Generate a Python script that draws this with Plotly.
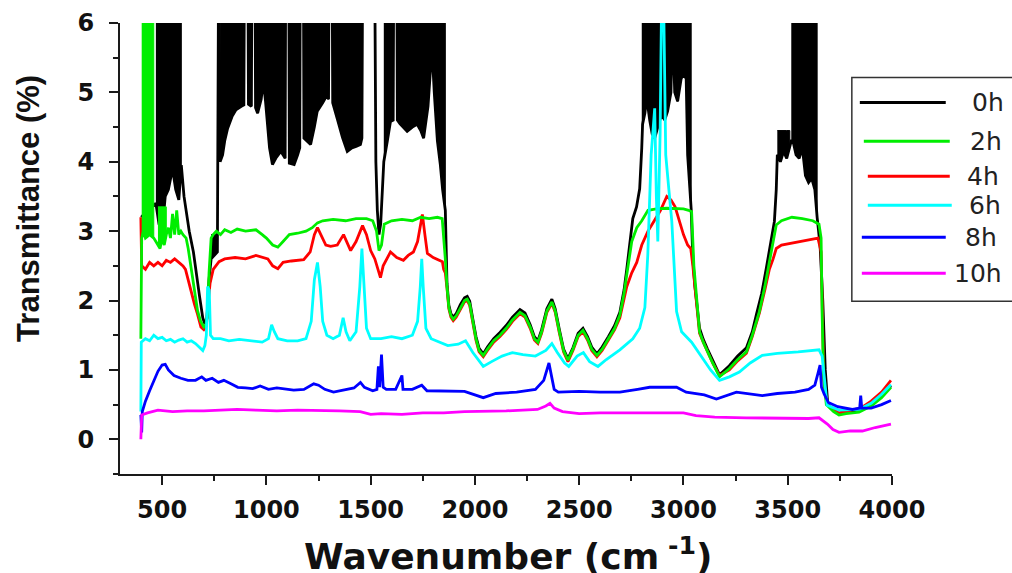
import plotly.graph_objects as go

# ---------------- data (wavenumber cm^-1, transmittance %) ----------------
SERIES_0H = [
    (400, 3.2), (430, 3.3), (470, 3.4), (485, 3.1), (500, 3.0), (515, 3.5), (530, 3.6),
    (550, 3.9), (565, 3.6), (580, 3.45), (592, 3.95), (605, 3.5), (615, 3.3), (630, 3.0),
    (650, 2.7), (665, 2.35), (680, 2.05), (695, 1.75), (705, 1.66), (715, 1.75), (725, 2.3),
    (735, 2.6), (750, 2.65), (765, 2.7), (770, 6.3), (774, 6.3), (778, 4.0), (790, 4.1),
    (800, 4.3), (814, 4.48), (835, 4.65), (854, 4.75), (880, 4.8), (892, 4.82), (894, 6.3),
    (912, 6.3), (914, 4.83), (928, 4.8), (930, 6.3), (946, 6.3), (948, 4.78), (958, 4.7),
    (975, 4.9), (985, 5.16), (995, 4.9), (1005, 4.48), (1015, 4.2), (1029, 3.96),
    (1045, 4.05), (1069, 4.15), (1090, 4.05), (1092, 6.3), (1108, 6.3), (1110, 3.98),
    (1133, 3.96), (1150, 4.1), (1160, 4.2), (1162, 6.3), (1178, 6.3), (1180, 4.34),
    (1195, 4.3), (1212, 4.25), (1230, 4.5), (1244, 4.73), (1270, 4.85), (1292, 4.97),
    (1298, 4.9), (1300, 6.3), (1316, 6.3), (1318, 4.85), (1340, 4.62), (1365, 4.35),
    (1388, 4.15), (1410, 4.2), (1430, 4.22), (1451, 4.25), (1458, 4.34), (1461, 6.5),
    (1520, 6.5), (1525, 4.0), (1532, 3.3), (1540, 2.95), (1548, 3.1), (1556, 3.6),
    (1563, 4.0), (1580, 4.3), (1595, 4.58), (1608, 4.6), (1610, 6.3), (1626, 6.3),
    (1628, 4.6), (1640, 4.55), (1675, 4.44), (1700, 4.5), (1723, 4.54), (1740, 4.45),
    (1754, 4.34), (1775, 4.8), (1794, 5.64), (1805, 5.0), (1820, 4.3), (1834, 3.96),
    (1845, 3.6), (1858, 3.3), (1866, 2.25), (1875, 1.93), (1885, 1.81), (1896, 1.76),
    (1910, 1.81), (1930, 1.94), (1950, 2.04), (1963, 2.06), (1975, 1.99), (1990, 1.73),
    (2005, 1.48), (2020, 1.31), (2040, 1.23), (2060, 1.33), (2090, 1.45), (2120, 1.54),
    (2150, 1.64), (2180, 1.76), (2216, 1.87), (2240, 1.82), (2265, 1.65), (2285, 1.48),
    (2302, 1.42), (2320, 1.58), (2345, 1.88), (2369, 2.02), (2385, 1.88), (2405, 1.58),
    (2425, 1.3), (2446, 1.16), (2470, 1.32), (2495, 1.53), (2518, 1.6), (2540, 1.48),
    (2560, 1.33), (2585, 1.23), (2610, 1.33), (2640, 1.48), (2670, 1.64), (2695, 1.83),
    (2715, 2.15), (2728, 2.45), (2745, 2.85), (2757, 3.18), (2775, 3.35), (2790, 3.61),
    (2800, 4.2), (2804, 4.54), (2815, 4.7), (2824, 4.92), (2838, 4.6), (2850, 4.4),
    (2862, 4.34), (2880, 4.55), (2894, 4.68), (2910, 4.6), (2924, 4.73), (2940, 5.0),
    (2946, 5.8), (2952, 5.6), (2958, 5.0), (2972, 4.87), (2989, 5.2), (3000, 5.25),
    (3013, 5.2), (3020, 4.1), (3030, 3.6), (3037, 3.32), (3045, 2.6), (3055, 2.2),
    (3077, 1.6), (3095, 1.44), (3115, 1.3), (3140, 1.13), (3173, 0.93), (3220, 1.06),
    (3260, 1.2), (3302, 1.32), (3330, 1.55), (3350, 1.8), (3375, 2.1), (3397, 2.46),
    (3420, 2.85), (3436, 3.14), (3445, 3.6), (3450, 4.1), (3465, 4.0), (3480, 4.15),
    (3495, 4.05), (3510, 4.2), (3517, 4.3), (3525, 4.3), (3540, 4.1), (3555, 4.05),
    (3570, 4.2), (3585, 3.8), (3600, 3.7), (3615, 3.76), (3630, 3.6), (3641, 3.2),
    (3655, 2.8), (3668, 2.0), (3680, 1.0), (3692, 0.5), (3720, 0.42), (3746, 0.37),
    (3780, 0.39), (3842, 0.41), (3900, 0.5), (3950, 0.62), (3995, 0.77),
]
# noisy stretches of the 0h spectrum: (from, to, upper edge of the noise)
NOISE_0H = [(470, 595, 6.3), (730, 768, 2.95), (778, 1458, 6.3), (1563, 1858, 6.3),
            (2800, 3037, 6.3), (3450, 3515, 4.45), (3517, 3641, 6.3)]

SERIES_2H = [
    (398, 1.45), (402, 2.9), (410, 3.0), (420, 2.9), (440, 2.95), (460, 2.9), (470, 2.85),
    (480, 2.8), (490, 2.75), (500, 2.9), (510, 2.8), (520, 2.95), (530, 3.05), (540, 2.9),
    (550, 3.25), (560, 2.95), (570, 3.3), (580, 2.95), (590, 3.0), (600, 2.95), (615, 2.9),
    (625, 2.75), (640, 2.45), (655, 2.1), (670, 1.85), (685, 1.7), (700, 1.62), (710, 1.65),
    (718, 1.8), (725, 2.4), (735, 2.9), (745, 2.95), (760, 3.0), (780, 2.95), (800, 3.02),
    (830, 2.98), (860, 3.03), (900, 3.0), (950, 3.02), (980, 2.95), (1000, 2.9),
    (1030, 2.8), (1055, 2.77), (1080, 2.85), (1110, 2.95), (1150, 2.97), (1190, 3.0),
    (1220, 3.05), (1245, 3.12), (1270, 3.15), (1320, 3.17), (1380, 3.15), (1430, 3.18),
    (1480, 3.18), (1510, 3.15), (1528, 3.0), (1540, 2.72), (1552, 2.8), (1565, 3.1),
    (1600, 3.15), (1650, 3.17), (1700, 3.15), (1740, 3.2), (1780, 3.18), (1820, 3.2),
    (1843, 3.18), (1850, 2.95), (1858, 2.6), (1866, 2.2), (1875, 1.9), (1885, 1.78),
    (1896, 1.73), (1910, 1.78), (1930, 1.9), (1950, 2.0), (1963, 2.02), (1975, 1.95),
    (1990, 1.7), (2005, 1.45), (2020, 1.28), (2040, 1.21), (2060, 1.3), (2090, 1.42),
    (2120, 1.5), (2150, 1.6), (2180, 1.72), (2216, 1.83), (2240, 1.78), (2265, 1.62),
    (2285, 1.45), (2302, 1.4), (2320, 1.55), (2345, 1.85), (2369, 1.98), (2385, 1.85),
    (2405, 1.55), (2425, 1.28), (2446, 1.14), (2470, 1.3), (2495, 1.5), (2518, 1.57),
    (2540, 1.45), (2560, 1.3), (2585, 1.21), (2610, 1.3), (2640, 1.45), (2670, 1.6),
    (2695, 1.79), (2715, 2.1), (2728, 2.37), (2752, 2.85), (2776, 3.05), (2800, 3.15),
    (2830, 3.3), (2870, 3.32), (2920, 3.33), (2960, 3.32), (3000, 3.32), (3025, 3.3),
    (3039, 3.28), (3050, 2.5), (3060, 2.1), (3077, 1.55), (3095, 1.4), (3115, 1.26),
    (3140, 1.1), (3173, 0.9), (3220, 1.02), (3260, 1.15), (3302, 1.26), (3330, 1.5),
    (3364, 1.84), (3390, 2.2), (3412, 2.56), (3430, 2.9), (3445, 3.09), (3470, 3.15),
    (3520, 3.2), (3570, 3.18), (3620, 3.15), (3650, 3.1), (3660, 2.9), (3665, 1.8),
    (3672, 0.9), (3685, 0.5), (3720, 0.4), (3746, 0.35), (3780, 0.37), (3842, 0.39),
    (3900, 0.48), (3950, 0.6), (3995, 0.75),
]
NOISE_2H = [(402, 468, 6.3), (472, 520, 3.35)]

SERIES_4H = [
    (398, 3.2), (402, 2.5), (420, 2.45), (440, 2.55), (460, 2.5), (480, 2.55), (500, 2.5),
    (520, 2.58), (540, 2.55), (560, 2.6), (580, 2.55), (600, 2.5), (612, 2.45), (625, 2.3),
    (640, 2.1), (655, 1.95), (670, 1.8), (686, 1.62), (700, 1.58), (712, 1.63), (720, 1.95),
    (730, 2.25), (745, 2.45), (773, 2.56), (800, 2.6), (850, 2.62), (900, 2.6), (950, 2.65),
    (1007, 2.6), (1030, 2.5), (1055, 2.46), (1080, 2.55), (1120, 2.57), (1179, 2.59),
    (1210, 2.7), (1230, 2.95), (1245, 3.05), (1260, 2.96), (1285, 2.8), (1308, 2.78),
    (1340, 2.8), (1370, 2.95), (1385, 2.85), (1404, 2.72), (1430, 2.85), (1461, 3.08),
    (1480, 2.95), (1500, 2.72), (1520, 2.6), (1537, 2.41), (1547, 2.33), (1560, 2.5),
    (1595, 2.7), (1625, 2.62), (1657, 2.58), (1680, 2.65), (1705, 2.7), (1725, 2.85),
    (1748, 3.24), (1760, 2.95), (1772, 2.68), (1800, 2.62), (1844, 2.56), (1850, 2.45),
    (1858, 2.4), (1866, 2.18), (1875, 1.88), (1885, 1.76), (1896, 1.71), (1910, 1.76),
    (1930, 1.88), (1950, 1.98), (1963, 2.0), (1975, 1.93), (1990, 1.68), (2005, 1.43),
    (2020, 1.26), (2040, 1.19), (2060, 1.28), (2090, 1.4), (2120, 1.48), (2150, 1.58),
    (2180, 1.7), (2216, 1.81), (2240, 1.76), (2265, 1.6), (2285, 1.43), (2302, 1.38),
    (2320, 1.53), (2345, 1.83), (2369, 1.96), (2385, 1.83), (2405, 1.53), (2425, 1.26),
    (2446, 1.12), (2470, 1.28), (2495, 1.48), (2518, 1.55), (2540, 1.43), (2560, 1.28),
    (2585, 1.19), (2610, 1.28), (2640, 1.43), (2670, 1.58), (2695, 1.75), (2728, 2.2),
    (2752, 2.4), (2776, 2.55), (2800, 2.8), (2830, 3.0), (2860, 3.15), (2890, 3.3),
    (2920, 3.5), (2940, 3.45), (2960, 3.35), (2980, 3.15), (3000, 2.95), (3020, 2.8),
    (3035, 2.75), (3045, 2.5), (3060, 2.05), (3077, 1.53), (3095, 1.4), (3115, 1.27),
    (3140, 1.1), (3173, 0.92), (3220, 1.0), (3260, 1.13), (3302, 1.24), (3330, 1.48),
    (3364, 1.82), (3390, 2.15), (3412, 2.45), (3430, 2.6), (3445, 2.75), (3470, 2.8),
    (3520, 2.83), (3570, 2.85), (3620, 2.88), (3645, 2.9), (3660, 2.7), (3666, 1.8),
    (3673, 0.85), (3688, 0.5), (3720, 0.42), (3746, 0.38), (3800, 0.42), (3850, 0.45),
    (3900, 0.55), (3950, 0.68), (3995, 0.85),
]

SERIES_6H = [
    (398, 0.4), (400, 1.4), (420, 1.45), (440, 1.42), (460, 1.5), (480, 1.45), (500, 1.47),
    (520, 1.42), (540, 1.44), (560, 1.4), (580, 1.43), (600, 1.45), (620, 1.4), (640, 1.42),
    (660, 1.38), (680, 1.32), (695, 1.28), (705, 1.35), (712, 1.5), (718, 2.2), (726, 2.15),
    (732, 1.5), (745, 1.45), (780, 1.45), (820, 1.42), (870, 1.44), (920, 1.42), (980, 1.4),
    (1010, 1.45), (1025, 1.65), (1038, 1.55), (1055, 1.45), (1100, 1.42), (1150, 1.42),
    (1190, 1.45), (1215, 1.7), (1230, 2.3), (1245, 2.55), (1258, 2.2), (1270, 1.7),
    (1290, 1.5), (1320, 1.45), (1350, 1.5), (1368, 1.75), (1382, 1.55), (1400, 1.42),
    (1430, 1.55), (1448, 2.2), (1458, 2.75), (1468, 2.2), (1480, 1.6), (1500, 1.45),
    (1550, 1.45), (1600, 1.48), (1650, 1.45), (1700, 1.5), (1725, 1.7), (1738, 2.2),
    (1745, 2.6), (1752, 2.2), (1765, 1.6), (1790, 1.45), (1830, 1.4), (1870, 1.35),
    (1920, 1.37), (1955, 1.42), (1990, 1.25), (2040, 1.05), (2080, 1.12), (2130, 1.2),
    (2180, 1.25), (2230, 1.22), (2290, 1.2), (2340, 1.28), (2369, 1.38), (2395, 1.25),
    (2430, 1.1), (2450, 1.05), (2490, 1.2), (2520, 1.25), (2550, 1.12), (2590, 1.05),
    (2630, 1.15), (2695, 1.29), (2757, 1.45), (2790, 1.6), (2815, 1.9), (2829, 2.66),
    (2845, 4.1), (2862, 4.77), (2870, 3.5), (2877, 2.85), (2888, 4.4), (2895, 6.3),
    (2905, 6.3), (2915, 4.1), (2930, 3.6), (2944, 3.14), (2967, 1.84), (2991, 1.55),
    (3039, 1.4), (3092, 1.16), (3130, 1.0), (3173, 0.85), (3220, 0.9), (3268, 0.97),
    (3320, 1.1), (3378, 1.21), (3450, 1.24), (3550, 1.26), (3650, 1.29), (3665, 1.2),
    (3678, 0.8), (3689, 0.49), (3746, 0.42), (3842, 0.43), (3900, 0.52), (3950, 0.65),
    (3995, 0.79),
]

SERIES_8H = [
    (398, 0.35), (402, 0.1), (405, 0.4), (420, 0.55), (440, 0.7), (460, 0.85), (480, 0.98),
    (500, 1.07), (515, 1.08), (530, 1.0), (557, 0.92), (590, 0.88), (624, 0.85), (660, 0.85),
    (690, 0.9), (710, 0.85), (740, 0.88), (770, 0.82), (796, 0.85), (830, 0.8), (863, 0.75),
    (900, 0.74), (934, 0.73), (970, 0.77), (1010, 0.72), (1050, 0.74), (1090, 0.72),
    (1131, 0.71), (1180, 0.72), (1227, 0.8), (1250, 0.78), (1280, 0.72), (1322, 0.68),
    (1380, 0.72), (1420, 0.74), (1451, 0.82), (1470, 0.75), (1510, 0.7), (1530, 0.72),
    (1537, 1.05), (1543, 0.75), (1552, 1.22), (1560, 0.75), (1575, 0.72), (1620, 0.72),
    (1650, 0.92), (1655, 0.72), (1700, 0.72), (1745, 0.78), (1770, 0.7), (1850, 0.7),
    (1950, 0.69), (2040, 0.6), (2100, 0.66), (2200, 0.68), (2290, 0.72), (2330, 0.85),
    (2355, 1.1), (2368, 0.9), (2380, 0.72), (2400, 0.68), (2500, 0.69), (2600, 0.68),
    (2695, 0.68), (2780, 0.72), (2838, 0.75), (2967, 0.75), (3013, 0.68), (3100, 0.64),
    (3158, 0.58), (3254, 0.68), (3378, 0.63), (3450, 0.66), (3535, 0.68), (3600, 0.72),
    (3630, 0.78), (3645, 0.95), (3655, 1.07), (3662, 0.75), (3675, 0.65), (3695, 0.53),
    (3740, 0.47), (3810, 0.43), (3845, 0.45), (3850, 0.63), (3855, 0.45), (3900, 0.45),
    (3950, 0.5), (3995, 0.56),
]

SERIES_10H = [
    (398, 0.0), (402, 0.35), (430, 0.38), (480, 0.42), (550, 0.4), (620, 0.41), (700, 0.41),
    (780, 0.42), (860, 0.43), (950, 0.42), (1050, 0.41), (1150, 0.42), (1250, 0.42),
    (1350, 0.41), (1450, 0.4), (1500, 0.36), (1550, 0.37), (1650, 0.36), (1750, 0.38),
    (1850, 0.38), (1950, 0.4), (2050, 0.4), (2150, 0.41), (2300, 0.43), (2340, 0.48),
    (2360, 0.52), (2380, 0.45), (2420, 0.4), (2500, 0.37), (2600, 0.38), (2700, 0.38),
    (2800, 0.38), (2900, 0.38), (3000, 0.38), (3060, 0.34), (3150, 0.32), (3300, 0.31),
    (3450, 0.3), (3600, 0.3), (3650, 0.31), (3690, 0.22), (3717, 0.14), (3746, 0.1),
    (3800, 0.12), (3858, 0.12), (3920, 0.17), (3995, 0.22),
]

LABELS = ["0h", "2h", "4h", "6h", "8h", "10h"]
COLORS = ["#000000", "#00ee00", "#ff0000", "#00ffff", "#0000ff", "#ff00ff"]
X_TICKS = [500, 1000, 1500, 2000, 2500, 3000, 3500, 4000]
Y_TICKS = [0, 1, 2, 3, 4, 5, 6]
X_RANGE = [298, 4000]
Y_RANGE = [-0.5, 6]

# ---------------- figure ----------------
W, H = 1012, 573
ML, MR, MT, MB = 119.5, 119.8, 22.5, 99.0
PW, PH = W - ML - MR, H - MT - MB


def px(x):
    return (x - ML) / PW


def py(y):
    return (H - MB - y) / PH


def xy(pts):
    return [p[0] for p in pts], [p[1] for p in pts]


def noise_band(pts, a, b, top, color):
    seg = [p for p in pts if a <= p[0] <= b]
    xs, ys = xy(seg)
    return go.Scatter(x=xs + xs[::-1], y=ys + [top] * len(xs), mode="lines",
                      fill="toself", fillcolor=color, line=dict(color=color, width=1),
                      hoverinfo="skip", showlegend=False)


def line(pts, color, name):
    xs, ys = xy(pts)
    return go.Scatter(x=xs, y=ys, mode="lines", name=name,
                      line=dict(color=color, width=2.8), showlegend=False)


fig = go.Figure()
for a, b, top in NOISE_0H:
    fig.add_trace(noise_band(SERIES_0H, a, b, top, COLORS[0]))
fig.add_trace(line(SERIES_0H, COLORS[0], LABELS[0]))
fig.add_trace(line(SERIES_4H, COLORS[2], LABELS[2]))
for a, b, top in NOISE_2H:
    fig.add_trace(noise_band(SERIES_2H, a, b, top, COLORS[1]))
fig.add_trace(line(SERIES_2H, COLORS[1], LABELS[1]))
fig.add_trace(line(SERIES_6H, COLORS[3], LABELS[3]))
fig.add_trace(line(SERIES_8H, COLORS[4], LABELS[4]))
fig.add_trace(line(SERIES_10H, COLORS[5], LABELS[5]))

axis_col = "#1a1a1a"
tick_font = dict(family="DejaVu Sans", size=24, color="#111", weight="bold")
fig.update_xaxes(range=X_RANGE, tickvals=X_TICKS, ticktext=[str(v) for v in X_TICKS],
                 showline=True, linecolor=axis_col, linewidth=2, mirror=False,
                 ticks="outside", ticklen=9, tickwidth=2, tickcolor=axis_col,
                 minor=dict(dtick=250, ticks="outside", ticklen=5, tickwidth=1.5,
                            tickcolor=axis_col),
                 showgrid=False, zeroline=False, tickfont=tick_font, ticklabelstandoff=4,
                 automargin=False)
fig.update_yaxes(range=Y_RANGE, tickvals=Y_TICKS, ticktext=[str(v) for v in Y_TICKS],
                 showline=True, linecolor=axis_col, linewidth=2, mirror=False,
                 ticks="outside", ticklen=9, tickwidth=2, tickcolor=axis_col,
                 minor=dict(dtick=0.5, ticks="outside", ticklen=5, tickwidth=1.5,
                            tickcolor=axis_col),
                 showgrid=False, zeroline=False, tickfont=tick_font, ticklabelstandoff=10,
                 automargin=False)

annotations = [
    dict(text="Transmittance (%)", xref="paper", yref="paper", x=px(28), y=py(208),
         textangle=-90, showarrow=False, xanchor="center", yanchor="middle",
         font=dict(family="Liberation Sans", size=31, color="#111", weight="bold")),
    dict(text="Wavenumber (cm<sup> -1</sup>)", xref="paper", yref="paper", x=px(508),
         y=py(554), showarrow=False, xanchor="center", yanchor="middle",
         font=dict(family="DejaVu Sans", size=36, color="#111", weight="bold")),
]
shapes = [dict(type="rect", xref="paper", yref="paper", x0=px(852), x1=px(1020),
               y0=py(301), y1=py(77), line=dict(color="#333", width=1.5),
               fillcolor="rgba(0,0,0,0)", layer="above")]
leg_rows = [(860, 946, 102, 970), (864, 950, 141, 968), (868, 950, 176, 965),
            (868, 952, 205, 967), (862, 946, 237, 963), (862, 946, 273, 952)]
for (x0, x1, yy, tx), lab, col in zip(leg_rows, LABELS, COLORS):
    shapes.append(dict(type="line", xref="paper", yref="paper", x0=px(x0), x1=px(x1),
                       y0=py(yy), y1=py(yy), line=dict(color=col, width=3)))
    annotations.append(dict(text=lab, xref="paper", yref="paper", x=px(tx), y=py(yy),
                            showarrow=False, xanchor="left", yanchor="middle",
                            font=dict(family="DejaVu Sans", size=25, color="#222")))

fig.update_layout(width=W, height=H, margin=dict(l=ML, r=MR, t=MT, b=MB, pad=0),
                  paper_bgcolor="white", plot_bgcolor="white", showlegend=False,
                  annotations=annotations, shapes=shapes)

fig.write_html("out.html", config={"displayModeBar": False},
               post_script="document.body.style.margin='0';document.body.style.overflow='hidden';")
